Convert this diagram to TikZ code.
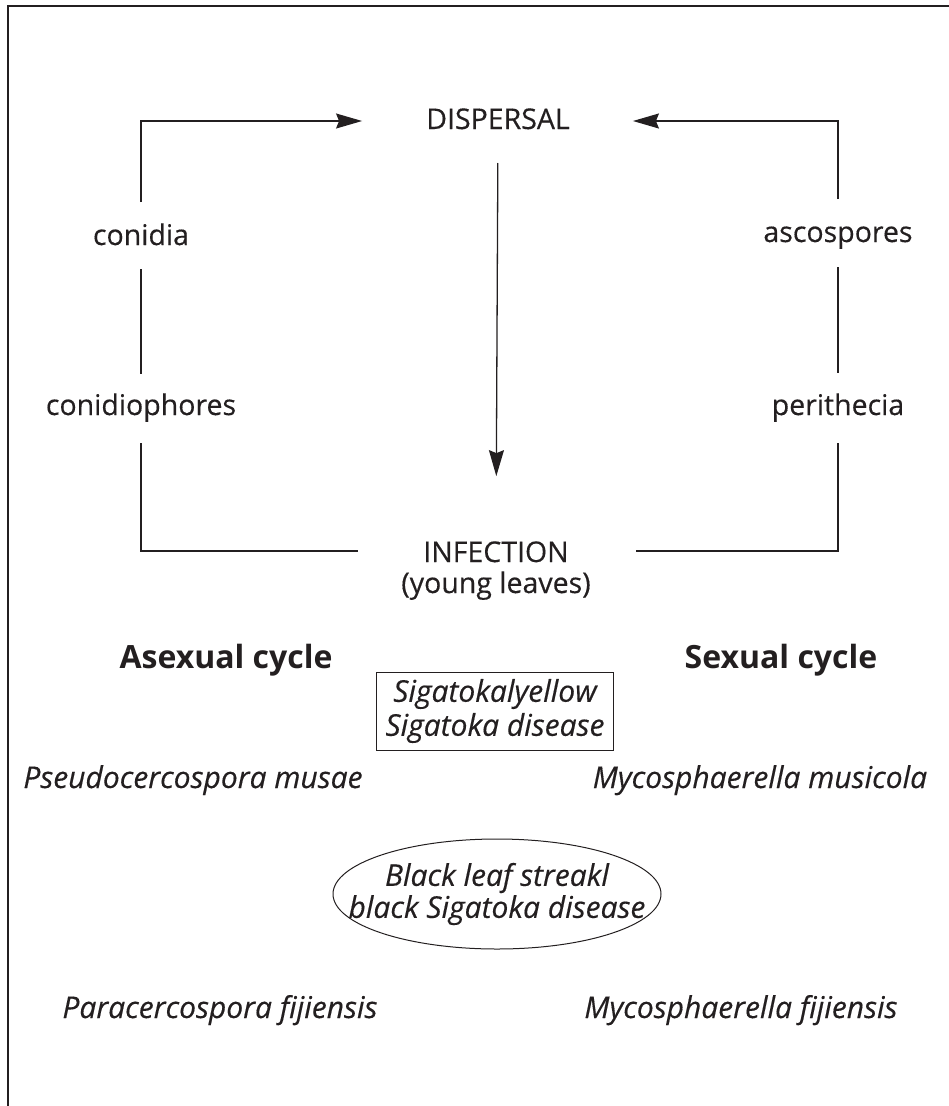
\documentclass[tikz,border=0pt]{standalone}
\usepackage{fontspec}
\setmainfont{Open Sans}[
  UprightFeatures={FakeBold=0.35},
  ItalicFeatures={FakeBold=0.35}]
\usetikzlibrary{arrows.meta}
\definecolor{ink}{RGB}{35,31,32}

\begin{document}
\begin{tikzpicture}[x=1pt,y=-1pt,
  every node/.style={text=ink},
  lbl/.style={inner sep=0pt, anchor=base, font=\fontsize{28.5}{33}\selectfont},
  spec/.style={inner sep=0pt, anchor=base, font=\fontsize{30}{34}\selectfont\itshape},
  cyc/.style={inner sep=0pt, anchor=base, font=\fontsize{32}{36}\selectfont\bfseries},
  link/.style={draw=ink, line width=1.3pt},
  arr/.style={link, -{Stealth[length=26pt,width=15pt,inset=3pt]}},
  outline/.style={draw=ink, line width=1pt},
]
\useasboundingbox (0,0) rectangle (949,1106);

% page frame
\draw[ink, line width=2pt] (8,1106) -- (8,6) -- (949,6);

% cycle stages
\node[lbl] (disp) at (498,129) {DISPERSAL};
\node[lbl] (inf) at (496,562) {INFECTION};
\node[lbl] (young) at (496,593) {(young leaves)};
\node[lbl] (conidia) at (141,245) {conidia};
\node[lbl] (conidioph) at (141,415) {conidiophores};
\node[lbl] (ascos) at (838,242) {ascospores};
\node[lbl] (perith) at (838,415) {perithecia};

% corners of the two loops
\coordinate (cL) at (141,121);
\coordinate (cR) at (838,121);
\coordinate (bL) at (141,551);
\coordinate (bR) at (838,551);
\coordinate (bLend) at (358,551);
\coordinate (bRend) at (636,551);

% asexual loop
\draw[arr, shorten <=43pt, shorten >=64pt] (conidia.base) -- (cL) -- (disp.west |- cL);
\draw[link, shorten <=24pt, shorten >=41pt] (conidia.base) -- (conidioph.base);
\draw[link, shorten <=28pt] (conidioph.base) -- (bL) -- (bLend);

% sexual loop
\draw[arr, shorten <=43pt, shorten >=63pt] (ascos.base) -- (cR) -- (disp.east |- cR);
\draw[link, shorten <=25pt, shorten >=42pt] (ascos.base) -- (perith.base);
\draw[link, shorten <=28pt] (perith.base) -- (bR) -- (bRend);

% dispersal to infection
\draw[arr, shorten <=34pt, shorten >=65pt] (disp.base) -- (inf.north);

% cycle names
\node[cyc] (asex) at (226,668) {Asexual cycle};
\node[cyc] (sex) at (781,668) {Sexual cycle};

% yellow Sigatoka
\node[outline, inner sep=0pt, minimum width=237pt, minimum height=78pt,
      align=center, font=\fontsize{30}{34}\selectfont\itshape] (yellow) at (495,711)
      {Sigatokalyellow\\Sigatoka disease};
\node[spec] (pmusae) at (193,788) {Pseudocercospora musae};
\node[spec] (mmusic) at (760,788) {Mycosphaerella musicola};

% black Sigatoka
\node[inner sep=0pt, align=center, font=\fontsize{30}{32}\selectfont\itshape] (black) at (497,894)
      {Black leaf streakl\\black Sigatoka disease};
\draw[outline] (black.center) ellipse [x radius=164pt, y radius=55pt];
\node[spec] (pfij) at (220,1018) {Paracercospora fijiensis};
\node[spec] (mfij) at (741,1018) {Mycosphaerella fijiensis};
\end{tikzpicture}
\end{document}
